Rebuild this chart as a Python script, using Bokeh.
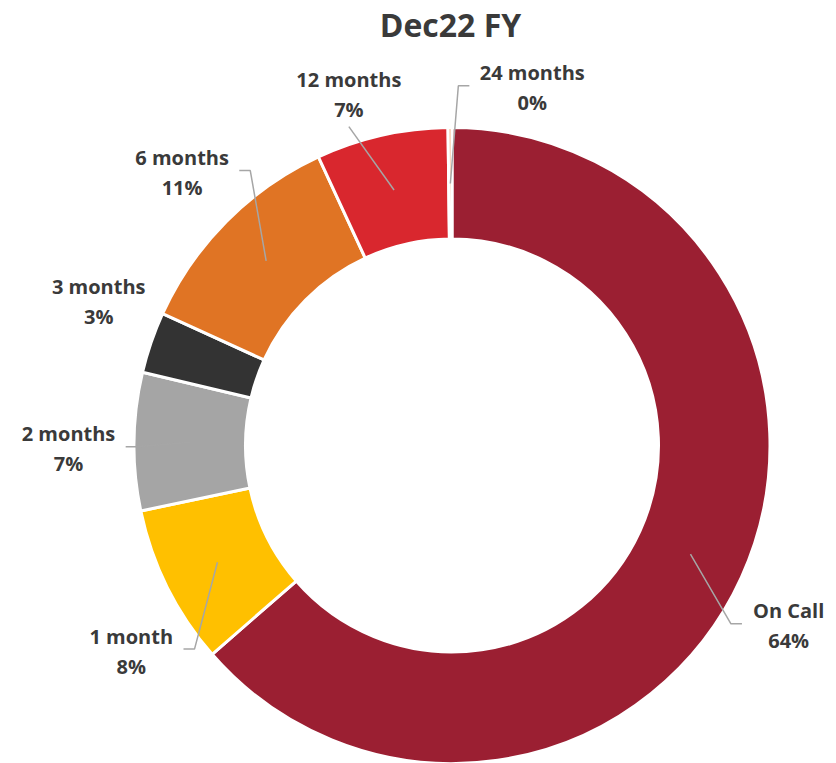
import math
from bokeh.plotting import figure
from bokeh.models import Range1d, ColumnDataSource
from bokeh.core.properties import value
from bokeh.embed import file_html
from bokeh.resources import INLINE

# ---------------- data ----------------
title = "Dec22 FY"
categories = ["On Call", "1 month", "2 months", "3 months", "6 months", "12 months", "24 months"]
shares = [63.6, 8.1, 7.0, 3.1, 11.3, 6.7, 0.2]
colors = ["#9B1F32", "#FFC000", "#A5A5A5", "#333333", "#E07424", "#D9272E", "#F4B183"]

# ---------------- layout / style ----------------
label_angle_nudge = [-3.7, 6.2, 1.2, -3.3, -0.5, 3.6, -13.0]   # degrees from slice mid-angle
label_radius = [1.201, 1.198, 1.206, 1.200, 1.207, 1.150, 1.153]  # in outer radii
leader_mode = ["side", "side", "side", "none", "side", "bottom", "side"]

R_OUT = 318.0
R_IN = 206.5
R_LEAD = 262.0
FONT = "Open Sans"
TXT = "#3A3A3A"
LEAD = "#A6A6A6"

# approximate Open Sans Bold advance widths (em)
CW = {'0': .572, '1': .572, '2': .572, '3': .572, '4': .572, '5': .572, '6': .572, '7': .572,
      '8': .572, '9': .572, ' ': .26, 'm': .925, 'o': .605, 'n': .631, 't': .398, 'h': .631,
      's': .494, 'O': .782, 'C': .632, 'a': .585, 'l': .29, '%': .88}


def text_w(s, px=20):
    return sum(CW.get(c, .6) for c in s) * px


W, H = 836, 763
CX, CY = 451.5, 445.0   # ring centre in page pixels
p = figure(width=W, height=H, output_backend="svg", toolbar_location=None,
           x_range=Range1d(-CX, W - CX), y_range=Range1d(CY - H, CY),
           x_axis_type=None, y_axis_type=None, min_border=0,
           outline_line_color=None, background_fill_color="white",
           border_fill_color="white")
p.grid.visible = False

total = sum(shares)
starts, ends, mids = [], [], []
cum = 0.0
for s in shares:
    a0 = math.pi / 2 - 2 * math.pi * cum / total
    cum += s
    a1 = math.pi / 2 - 2 * math.pi * cum / total
    starts.append(a0)
    ends.append(a1)
    mids.append((a0 + a1) / 2)

src = ColumnDataSource(dict(start=starts, end=ends, color=colors, cat=categories))
p.annular_wedge(x=0, y=0, inner_radius=R_IN, outer_radius=R_OUT,
                start_angle="start", end_angle="end", direction="clock",
                fill_color="color", line_color="white", line_width=3, source=src)

pct = [f"{round(s)}%" for s in shares]

lx_all, ly_all = [], []
lead_xs, lead_ys = [], []
for i, cat in enumerate(categories):
    ang = mids[i] + math.radians(label_angle_nudge[i])
    lx = label_radius[i] * R_OUT * math.cos(ang)
    ly = label_radius[i] * R_OUT * math.sin(ang)
    lx_all.append(lx)
    ly_all.append(ly)
    px0 = R_LEAD * math.cos(mids[i])
    py0 = R_LEAD * math.sin(mids[i])
    hw = max(text_w(cat), text_w(pct[i])) / 2
    if leader_mode[i] == "side":
        if lx < px0:
            ex = lx + hw + 12
            elx = ex + 11
        else:
            ex = lx - hw - 12
            elx = ex - 11
        ey = ly + 2
        lead_xs.append([px0, elx, ex])
        lead_ys.append([py0, ey, ey])
    elif leader_mode[i] == "bottom":
        lead_xs.append([px0, lx])
        lead_ys.append([py0, ly - 32])

p.multi_line(xs=lead_xs, ys=lead_ys, line_color=LEAD, line_width=1.5)

p.text(x=lx_all, y=[y + 15 for y in ly_all], text=categories,
       text_font=value(FONT), text_font_style="bold", text_font_size="20px",
       text_color=TXT, text_align="center", text_baseline="alphabetic")
p.text(x=lx_all, y=[y - 15 for y in ly_all], text=pct,
       text_font=value(FONT), text_font_style="bold", text_font_size="20px",
       text_color=TXT, text_align="center", text_baseline="alphabetic")

p.text(x=[-1.5], y=[R_OUT + 103.5], text=[title],
       text_font=value(FONT), text_font_style="bold", text_font_size="32px",
       text_color=TXT, text_align="center", text_baseline="alphabetic")

open("out.html", "w").write(file_html(p, INLINE))
